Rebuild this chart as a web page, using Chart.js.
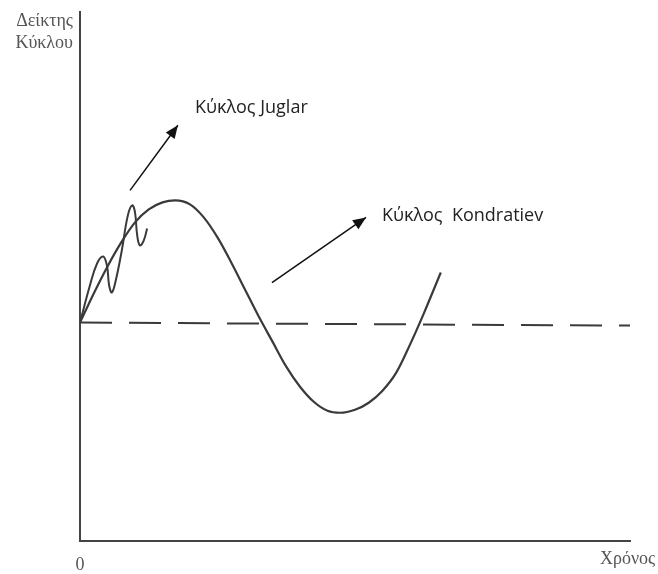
<!DOCTYPE html>
<html>
<head>
<meta charset="utf-8">
<script src="https://cdn.jsdelivr.net/npm/chart.js@4"></script>
<style>
  html, body { margin: 0; padding: 0; background: #fff; }
  #wrap { width: 658px; height: 574px; }
</style>
</head>
<body>
<div id="wrap"><canvas id="chart"></canvas></div>
<script>
// time (x) and cycle index (y)
const kondratievX = [0, 2.5, 5, 7.5, 10, 12.5, 15, 17.3, 20, 22.5, 25, 27.5, 30, 32.5, 35, 37.5, 40, 42.5, 45, 47.3, 50, 52.5, 55, 57.5, 60, 62.5, 65.6];
const kondratievY = [0, 0.29, 0.56, 0.80, 1.00, 1.13, 1.20, 1.22, 1.18, 1.05, 0.85, 0.60, 0.33, 0.06, -0.19, -0.44, -0.64, -0.79, -0.88, -0.90, -0.87, -0.80, -0.68, -0.50, -0.22, 0.09, 0.50];

const juglarX = [0, 1.8, 3.1, 4.2, 4.9, 5.3, 5.8, 6.5, 7.6, 8.7, 9.5, 10.0, 10.4, 10.9, 11.6, 12.2];
const juglarY = [0, 0.37, 0.59, 0.66, 0.57, 0.37, 0.30, 0.42, 0.72, 1.07, 1.17, 1.10, 0.87, 0.77, 0.82, 0.94];

const baselineX = [0, 100];
const baselineY = [0, -0.03];

const arrowJuglarX = [9.1, 17.8];
const arrowJuglarY = [1.32, 1.97];
const arrowKondratievX = [34.9, 52];
const arrowKondratievY = [0.40, 1.05];

const labelTexts = ['Κύκλος Juglar', 'Κύκλος  Kondratiev'];
const labelX = [20.9, 54.9];
const labelY = [2.14, 1.07];

const yTitle = ['Δείκτης', 'Κύκλου'];
const xTitle = 'Χρόνος';
const originLabel = '0';

const toPoints = (xs, ys) => xs.map((x, i) => ({ x: x, y: ys[i] }));

const ink = '#3a3a3a';

const annotate = {
  id: 'annotate',
  afterDatasetsDraw(chart) {
    const ctx = chart.ctx;
    const xs = chart.scales.x, ys = chart.scales.y;
    const area = chart.chartArea;
    ctx.save();

    // arrowheads at the end of the arrow datasets
    chart.data.datasets.forEach((ds) => {
      if (!ds.arrow) return;
      const p = ds.data;
      const x0 = xs.getPixelForValue(p[0].x), y0 = ys.getPixelForValue(p[0].y);
      const x1 = xs.getPixelForValue(p[1].x), y1 = ys.getPixelForValue(p[1].y);
      const a = Math.atan2(y1 - y0, x1 - x0);
      const len = 13, w = 5.5;
      ctx.fillStyle = '#111';
      ctx.beginPath();
      ctx.moveTo(x1, y1);
      ctx.lineTo(x1 - len * Math.cos(a) + w * Math.sin(a), y1 - len * Math.sin(a) - w * Math.cos(a));
      ctx.lineTo(x1 - len * Math.cos(a) - w * Math.sin(a), y1 - len * Math.sin(a) + w * Math.cos(a));
      ctx.closePath();
      ctx.fill();
    });

    // curve labels
    ctx.fillStyle = '#222';
    ctx.font = '18px "Open Sans", sans-serif';
    ctx.textBaseline = 'middle';
    ctx.textAlign = 'left';
    labelTexts.forEach((t, i) => {
      ctx.fillText(t, xs.getPixelForValue(labelX[i]), ys.getPixelForValue(labelY[i]));
    });

    // axis titles
    ctx.fillStyle = '#555';
    ctx.font = '18px "Liberation Serif", serif';
    ctx.textAlign = 'right';
    ctx.fillText(yTitle[0], area.left - 7, area.top + 9);
    ctx.fillText(yTitle[1], area.left - 7, area.top + 31);
    ctx.textAlign = 'center';
    ctx.fillText(originLabel, area.left, area.bottom + 24);
    ctx.textAlign = 'left';
    ctx.fillText(xTitle, area.right - 30, area.bottom + 18);
    ctx.restore();
  }
};

new Chart(document.getElementById('chart'), {
  type: 'scatter',
  data: {
    datasets: [
      {
        label: 'Kondratiev',
        data: toPoints(kondratievX, kondratievY),
        showLine: true, cubicInterpolationMode: 'monotone',
        borderColor: ink, borderWidth: 2.2, pointRadius: 0
      },
      {
        label: 'Juglar',
        data: toPoints(juglarX, juglarY),
        showLine: true, tension: 0.4,
        borderColor: ink, borderWidth: 2, pointRadius: 0
      },
      {
        label: 'baseline',
        data: toPoints(baselineX, baselineY),
        showLine: true, borderDash: [32, 17],
        borderColor: ink, borderWidth: 2, pointRadius: 0
      },
      {
        label: 'arrowJuglar', arrow: true,
        data: toPoints(arrowJuglarX, arrowJuglarY),
        showLine: true, borderColor: '#111', borderWidth: 1.5, pointRadius: 0
      },
      {
        label: 'arrowKondratiev', arrow: true,
        data: toPoints(arrowKondratievX, arrowKondratievY),
        showLine: true, borderColor: '#111', borderWidth: 1.5, pointRadius: 0
      }
    ]
  },
  options: {
    responsive: true,
    maintainAspectRatio: false,
    animation: false,
    layout: { padding: { left: 72, right: 28, top: 12, bottom: 25 } },
    plugins: { legend: { display: false }, tooltip: { enabled: false } },
    scales: {
      x: {
        type: 'linear', min: 0, max: 100,
        grid: { display: false },
        ticks: { display: false },
        border: { display: true, color: '#444', width: 2 }
      },
      y: {
        type: 'linear', min: -2.18, max: 3.1,
        grid: { display: false },
        ticks: { display: false },
        border: { display: true, color: '#444', width: 2 }
      }
    }
  },
  plugins: [annotate]
});
</script>
</body>
</html>
